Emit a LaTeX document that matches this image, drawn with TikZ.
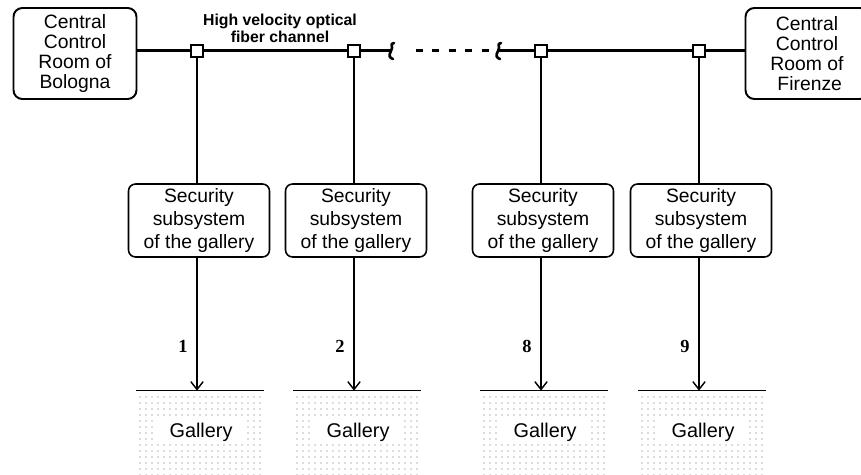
\documentclass[tikz,border=0pt]{standalone}
\usepackage{fontspec}
\setmainfont{Liberation Sans}
\newfontfamily\numfont{Liberation Serif}
\usetikzlibrary{arrows.meta}

\begin{document}
\begin{tikzpicture}
  [x=0.02cm, y=-0.02cm,
   room/.style={draw, line width=1.1pt, rounded corners=5pt, align=center,
     minimum width=2.46cm, minimum height=1.82cm, inner sep=0pt,
     font=\fontsize{11}{11.3}\selectfont},
   secbox/.style={draw, line width=0.9pt, rounded corners=4pt, align=center,
     minimum width=2.82cm, minimum height=1.46cm, inner sep=0pt,
     font=\fontsize{11}{13}\selectfont},
   tap/.style={draw, fill=white, line width=1.1pt, minimum size=0.24cm, inner sep=0pt},
   gal/.style={minimum width=2.54cm, minimum height=1.78cm, inner sep=0pt},
   galdot/.style={fill=black!60},
   gallabel/.style={fill=white, minimum width=1.8cm, minimum height=0.5cm,
     inner sep=0pt, font=\fontsize{11.3}{12}\selectfont},
   num/.style={font=\numfont\bfseries\fontsize{10.5}{12}\selectfont},
   trunk/.style={line width=1.7pt},
   brk/.style={line width=1.5pt, line cap=round},
   feed/.style={line width=0.8pt},
   link/.style={line width=0.8pt, -{Straight Barb[length=4.5pt, width=7pt]}}]
  \useasboundingbox (0,0) rectangle (861,475);
  %Kontrollzentren
  \node [room] (bol) at (75,53.5) {Central\\Control\\Room of\\Bologna};
  \node [room] (fir) at (807,53.5) {Central\\Control\\Room of\\\ Firenze};
  \node [font=\bfseries\fontsize{9}{9.6}\selectfont, align=center] (chan) at (280,28)
    {High velocity optical\\fiber channel};
  %Unterbrechung
  \coordinate (brk1) at (391,51);
  \coordinate (brk2) at (498,51);
  %Galerien
  \foreach \i/\x/\n in {1/197/1, 2/354/2, 3/541/8, 4/699/9} {
    \node [tap] (sq\i) at (\x,51) {};
    \node [secbox] (sec\i) at (\x+2,220.5) {Security\\subsystem\\of the gallery};
    \node [gal] (gal\i) at (\x+3,435.5) {};
    \foreach \u in {0,...,20}
      \foreach \v in {0,...,13}
        \fill [galdot] (\x-57+\u*6,397+\v*6) circle (0.4pt);
    \node [gallabel] (gl\i) at (\x+4,432) {Gallery};
    \node [num] (n\i) at (\x-14,346) {\n};
    \draw [feed] (gal\i.north west) -- (gal\i.north east);
    \draw [feed] (sq\i) -- (sq\i |- sec\i.north);
    \draw [link] (sq\i |- sec\i.south) -- (sq\i |- gal\i.north);
  }
  %Glasfaser
  \draw [trunk] (bol.east |- sq1) -- (sq1) -- (sq2) -- (brk1);
  \draw [trunk] (brk2) -- (sq3) -- (sq4) -- (sq4 -| fir.west);
  \draw [trunk, dash pattern=on 4pt off 5.4pt, shorten <=14] (brk1) -- (brk2);
  \draw [brk] (brk1) ++(3,-8) .. controls +(-5,1) and +(3,-5) .. ++(-3,8)
    .. controls +(-3,5) and +(-3,-1) .. ++(2,8);
  \draw [brk] (brk2) ++(3,-8) .. controls +(-5,1) and +(3,-5) .. ++(-3,8)
    .. controls +(-3,5) and +(-3,-1) .. ++(2,8);
\end{tikzpicture}
\end{document}
